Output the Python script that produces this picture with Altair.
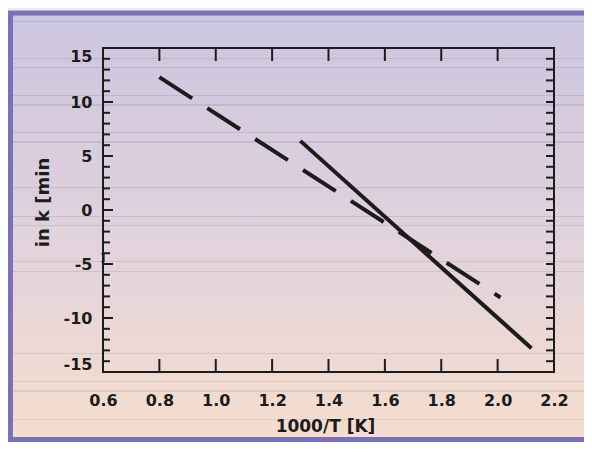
import altair as alt
import pandas as pd

# ---------------- data ----------------
solid_x = [1.30, 2.12]
solid_y = [6.4, -12.8]
dash_x = [0.80, 2.01]
dash_y = [12.3, -8.1]

x_ticks = [0.6, 0.8, 1.0, 1.2, 1.4, 1.6, 1.8, 2.0, 2.2]
x_inner_ticks = [0.8, 1.0, 1.2, 1.4, 1.6, 1.8, 2.0]
y_ticks = list(range(-15, 16))
y_major = [-15, -10, -5, 0, 5, 10, 15]

x_title = "1000/T [K]"
y_title = "in k [min"

# ---------------- layout / style ----------------
W, H = 451, 324
PAD = {"left": 95, "top": 40, "right": 30, "bottom": 70}
INK = "#1c1c1c"
FONT = "DejaVu Sans"

# background gradient (lavender -> peach) with faint ruled lines
BOX_TOP, BOX_BOT = 13.0, 439.5  # page px
base = [(0.0, "#cbc5e0"), (0.55, "#e2d3dc"), (1.0, "#f5decd")]


def h2r(h):
    return [int(h[i:i + 2], 16) for i in (1, 3, 5)]


def r2h(c):
    return "#" + "".join(f"{max(0, min(255, int(round(v)))):02x}" for v in c)


def bg_at(t):
    t = max(0.0, min(1.0, t))
    for (o0, c0), (o1, c1) in zip(base, base[1:]):
        if o0 <= t <= o1:
            f = (t - o0) / (o1 - o0)
            a, b = h2r(c0), h2r(c1)
            return [a[i] + (b[i] - a[i]) * f for i in range(3)]
    return h2r(base[-1][1])


ruled = [22, 59, 68, 96, 105, 133, 142, 179, 188, 216, 225, 262, 271,
         299, 308, 345, 354, 382, 391, 419, 428]
stops = [(o, c) for o, c in base]
span = BOX_BOT - BOX_TOP
for py in ruled:
    t0 = (py - 0.5 - BOX_TOP) / span
    t1 = (py + 0.5 - BOX_TOP) / span
    c0, c1 = bg_at(t0), bg_at(t1)
    stops += [(t0, r2h(c0)), (t0, r2h([v * 0.91 for v in c0])),
              (t1, r2h([v * 0.91 for v in c1])), (t1, r2h(c1))]
stops = sorted(stops, key=lambda s: s[0])
grad = alt.LinearGradient(
    gradient="linear",
    stops=[alt.GradientStop(color=c, offset=o) for o, c in stops],
    x1=0, x2=0, y1=0, y2=1,
)

xs = alt.Scale(domain=[0.6, 2.2], nice=False, zero=False)
ys = alt.Scale(domain=[-15, 15], nice=False, zero=False)

x_axis = alt.Axis(values=x_ticks, format=".1f", title=x_title, ticks=False, tickSize=0,
                  domain=False, grid=False, labelPadding=20, labelFlush=False,
                  labelOverlap=False, titleX=222, titleY=54, titleAlign="center",
                  titleBaseline="middle", titleAngle=0, zindex=1)
y_axis = alt.Axis(values=y_major, labelExpr="'' + datum.value", title=y_title,
                  ticks=False, tickSize=0,
                  domain=False, grid=False, labelPadding=11, labelFlush=True,
                  labelOverlap=False, titleX=-60, titleY=154, titleAngle=270,
                  titleAlign="center", titleBaseline="middle", titleFontSize=18, zindex=1)

X = alt.X("x:Q", scale=xs, axis=x_axis)
Y = alt.Y("y:Q", scale=ys, axis=y_axis)

one = alt.Data(values=[{"k": 0}])

# outer panel
panel = alt.Chart(one).mark_rect(fill=grad, stroke="#7b71b9", strokeWidth=5).encode(
    x=alt.value(-92.5), x2=alt.value(W + 50), y=alt.value(-35), y2=alt.value(BOX_BOT - 48)
)

# plot frame
frame = alt.Chart(one).mark_rect(fill="transparent", stroke=INK, strokeWidth=2).encode(
    x=alt.value(0), x2=alt.value(W), y=alt.value(0), y2=alt.value(H)
)

ydf = pd.DataFrame({"y": y_ticks})
ymaj = pd.DataFrame({"y": y_major})
xdf = pd.DataFrame({"x": x_inner_ticks})

tick_style = dict(color=INK, strokeWidth=2)
left_minor = alt.Chart(ydf).mark_rule(**tick_style).encode(y=Y, x=alt.value(0), x2=alt.value(7))
left_major = alt.Chart(ymaj).mark_rule(**tick_style).encode(y=Y, x=alt.value(0), x2=alt.value(10))
right_t = alt.Chart(ydf).mark_rule(**tick_style).encode(y=Y, x=alt.value(W - 8), x2=alt.value(W))
top_t = alt.Chart(xdf).mark_rule(**tick_style).encode(x=X, y=alt.value(0), y2=alt.value(13))
bot_t = alt.Chart(xdf).mark_rule(**tick_style).encode(x=X, y=alt.value(H - 13), y2=alt.value(H))

solid = alt.Chart(pd.DataFrame({"x": solid_x, "y": solid_y})).mark_line(
    color=INK, strokeWidth=4, strokeCap="butt"
).encode(x=X, y=Y)

dashed = alt.Chart(pd.DataFrame({"x": dash_x, "y": dash_y})).mark_line(
    color=INK, strokeWidth=4, strokeCap="butt", strokeDash=[39, 18]
).encode(x=X, y=Y)

bracket = alt.Chart(one).mark_text(
    text="]", font=FONT, fontWeight="bold", fontSize=11, color=INK, align="center", baseline="middle"
).encode(x=alt.value(0), y=alt.value(210))

chart = alt.layer(
    panel, frame, left_minor, left_major, right_t, top_t, bot_t, solid, dashed, bracket
).properties(
    width=W, height=H, padding=PAD,
    autosize=alt.AutoSizeParams(type="none"),
    background="#ececec",
).configure_view(
    stroke="transparent"
).configure_axis(
    labelFont=FONT, labelFontWeight="bold", labelFontSize=16, labelColor=INK,
    titleFont=FONT, titleFontWeight="bold", titleFontSize=17, titleColor=INK,
)

chart.save("out.html", embed_options={"renderer": "svg", "actions": False})
